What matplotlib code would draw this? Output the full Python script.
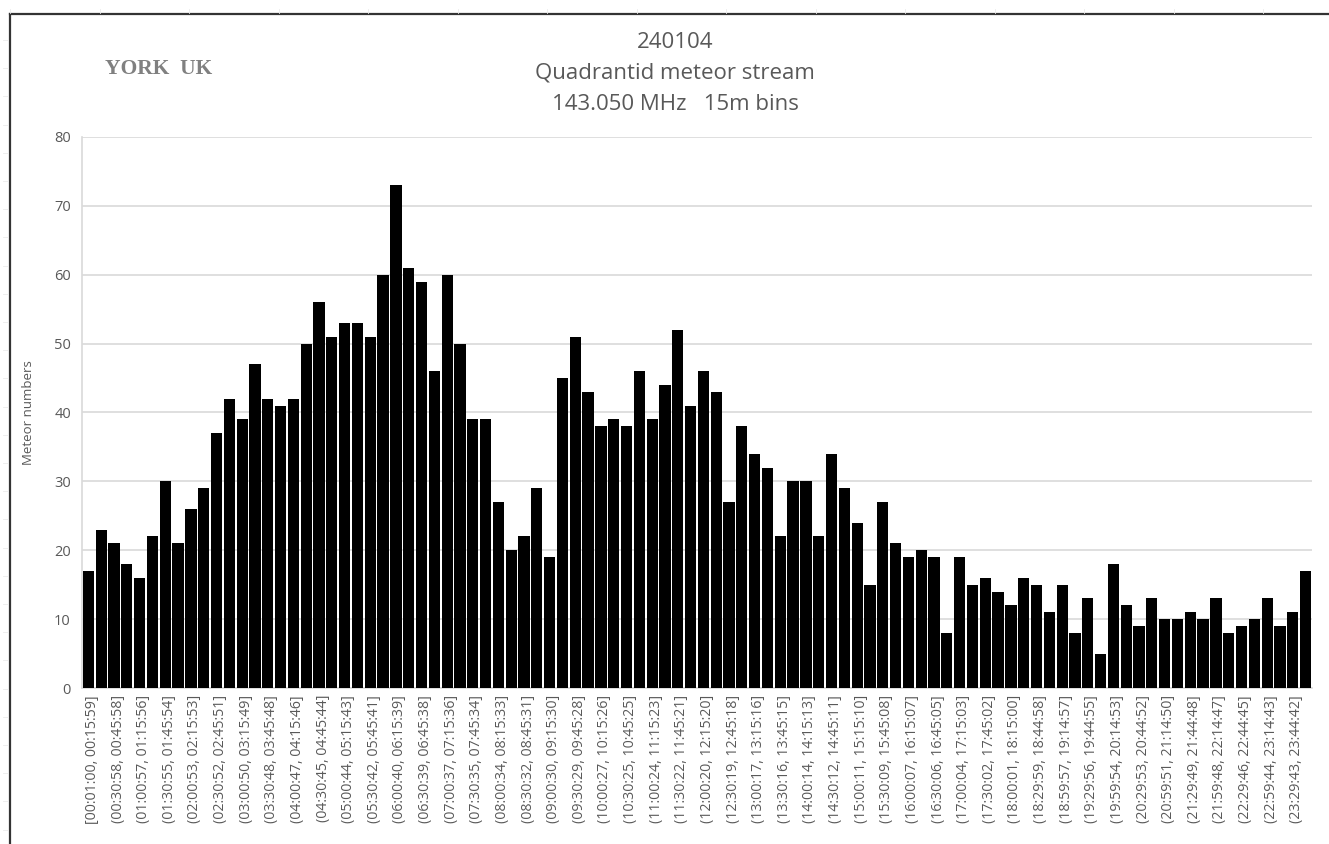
import matplotlib
matplotlib.use("Agg")
import matplotlib.pyplot as plt
from matplotlib.lines import Line2D
import matplotlib.transforms as mtransforms
import numpy as np

# Meteor counts per 15-minute bin, 2024-01-04
counts = [17, 23, 21, 18, 16, 22, 30, 21, 26, 29, 37, 42, 39, 47, 42, 41,
          42, 50, 56, 51, 53, 53, 51, 60, 73, 61, 59, 46, 60, 50, 39, 39,
          27, 20, 22, 29, 19, 45, 51, 43, 38, 39, 38, 46, 39, 44, 52, 41,
          46, 43, 27, 38, 34, 32, 22, 30, 30, 22, 34, 29, 24, 15, 27, 21,
          19, 20, 19, 8, 19, 15, 16, 14, 12, 16, 15, 11, 15, 8, 13, 5,
          18, 12, 9, 13, 10, 10, 11, 10, 13, 8, 9, 10, 13, 9, 11, 17]

# Interval labels shown on every other bin
bin_labels = [
    "[00:01:00, 00:15:59]", "(00:30:58, 00:45:58]", "(01:00:57, 01:15:56]",
    "(01:30:55, 01:45:54]", "(02:00:53, 02:15:53]", "(02:30:52, 02:45:51]",
    "(03:00:50, 03:15:49]", "(03:30:48, 03:45:48]", "(04:00:47, 04:15:46]",
    "(04:30:45, 04:45:44]", "(05:00:44, 05:15:43]", "(05:30:42, 05:45:41]",
    "(06:00:40, 06:15:39]", "(06:30:39, 06:45:38]", "(07:00:37, 07:15:36]",
    "(07:30:35, 07:45:34]", "(08:00:34, 08:15:33]", "(08:30:32, 08:45:31]",
    "(09:00:30, 09:15:30]", "(09:30:29, 09:45:28]", "(10:00:27, 10:15:26]",
    "(10:30:25, 10:45:25]", "(11:00:24, 11:15:23]", "(11:30:22, 11:45:21]",
    "(12:00:20, 12:15:20]", "(12:30:19, 12:45:18]", "(13:00:17, 13:15:16]",
    "(13:30:16, 13:45:15]", "(14:00:14, 14:15:13]", "(14:30:12, 14:45:11]",
    "(15:00:11, 15:15:10]", "(15:30:09, 15:45:08]", "(16:00:07, 16:15:07]",
    "(16:30:06, 16:45:05]", "(17:00:04, 17:15:03]", "(17:30:02, 17:45:02]",
    "(18:00:01, 18:15:00]", "(18:29:59, 18:44:58]", "(18:59:57, 19:14:57]",
    "(19:29:56, 19:44:55]", "(19:59:54, 20:14:53]", "(20:29:53, 20:44:52]",
    "(20:59:51, 21:14:50]", "(21:29:49, 21:44:48]", "(21:59:48, 22:14:47]",
    "(22:29:46, 22:44:45]", "(22:59:44, 23:14:43]", "(23:29:43, 23:44:42]",
]

y_ticks = [0, 10, 20, 30, 40, 50, 60, 70, 80]

TEXT_GREY = "#595959"
GRID_GREY = "#d9d9d9"
SANS = ["Open Sans", "DejaVu Sans"]

W, H = 1329, 844
fig = plt.figure(figsize=(W / 100, H / 100), dpi=100)
fig.patch.set_facecolor("white")

ax = fig.add_axes([82 / W, (H - 688) / H, (1312 - 82) / W, (688 - 137) / H])

x = np.arange(len(counts))
ax.bar(x, counts, width=0.88, color="black", edgecolor="none", zorder=3)

ax.set_xlim(-0.5, len(counts) - 0.5)
ax.set_ylim(0, 80)
ax.set_yticks(y_ticks)
ax.set_yticklabels([str(v) for v in y_ticks], fontsize=10.5, color=TEXT_GREY, family=SANS)
ax.yaxis.grid(True, color=GRID_GREY, linewidth=1.2, zorder=0)
ax.set_axisbelow(True)

ax.set_xticks(x[::2])
ax.set_xticklabels(bin_labels, rotation=90, fontsize=10.2, color=TEXT_GREY, family=SANS)
ax.tick_params(axis="both", length=0)
ax.tick_params(axis="x", pad=5)
ax.tick_params(axis="y", pad=8)

# nudge the rotated interval labels slightly to the right
shift = mtransforms.ScaledTranslation(4 / 100, 0, fig.dpi_scale_trans)
for lbl in ax.get_xticklabels():
    lbl.set_transform(lbl.get_transform() + shift)

for side in ("top", "right"):
    ax.spines[side].set_visible(False)
for side in ("left", "bottom"):
    ax.spines[side].set_color(GRID_GREY)
    ax.spines[side].set_linewidth(1.2)

ax.set_ylabel("Meteor numbers", fontsize=9.5, color=TEXT_GREY, family=SANS, labelpad=14)

# Chart title block
title_lines = ["240104", "Quadrantid meteor stream", "143.050 MHz   15m bins"]
for line, ypix in zip(title_lines, (42, 73, 104)):
    fig.text(675 / W, 1 - ypix / H, line, ha="center", va="center",
             fontsize=16, color=TEXT_GREY, family=SANS)

fig.text(105 / W, 1 - 69 / H, "YORK  UK", ha="left", va="center",
         fontsize=15.5, fontweight="bold", color="#808080", family="Liberation Serif")

# Outer frame of the chart area
frame_kw = dict(transform=fig.transFigure, color="#333333", linewidth=1.6)
fig.add_artist(Line2D([10 / W, 1.0], [1 - 14 / H, 1 - 14 / H], **frame_kw))
fig.add_artist(Line2D([10 / W, 10 / W], [0.0, 1 - 14 / H], **frame_kw))

# faint ruler marks along the top and left edges
mark_kw = dict(transform=fig.transFigure, color="#ebebeb", linewidth=0.6)
for xp in np.arange(10, W, 89.5):
    fig.add_artist(Line2D([xp / W, xp / W], [1 - 9 / H, 1 - 13 / H], **mark_kw))
for yp in np.arange(40, H, 28.2):
    fig.add_artist(Line2D([3 / W, 8 / W], [1 - yp / H, 1 - yp / H], **mark_kw))

fig.savefig("out.png", dpi=100, facecolor="white")
